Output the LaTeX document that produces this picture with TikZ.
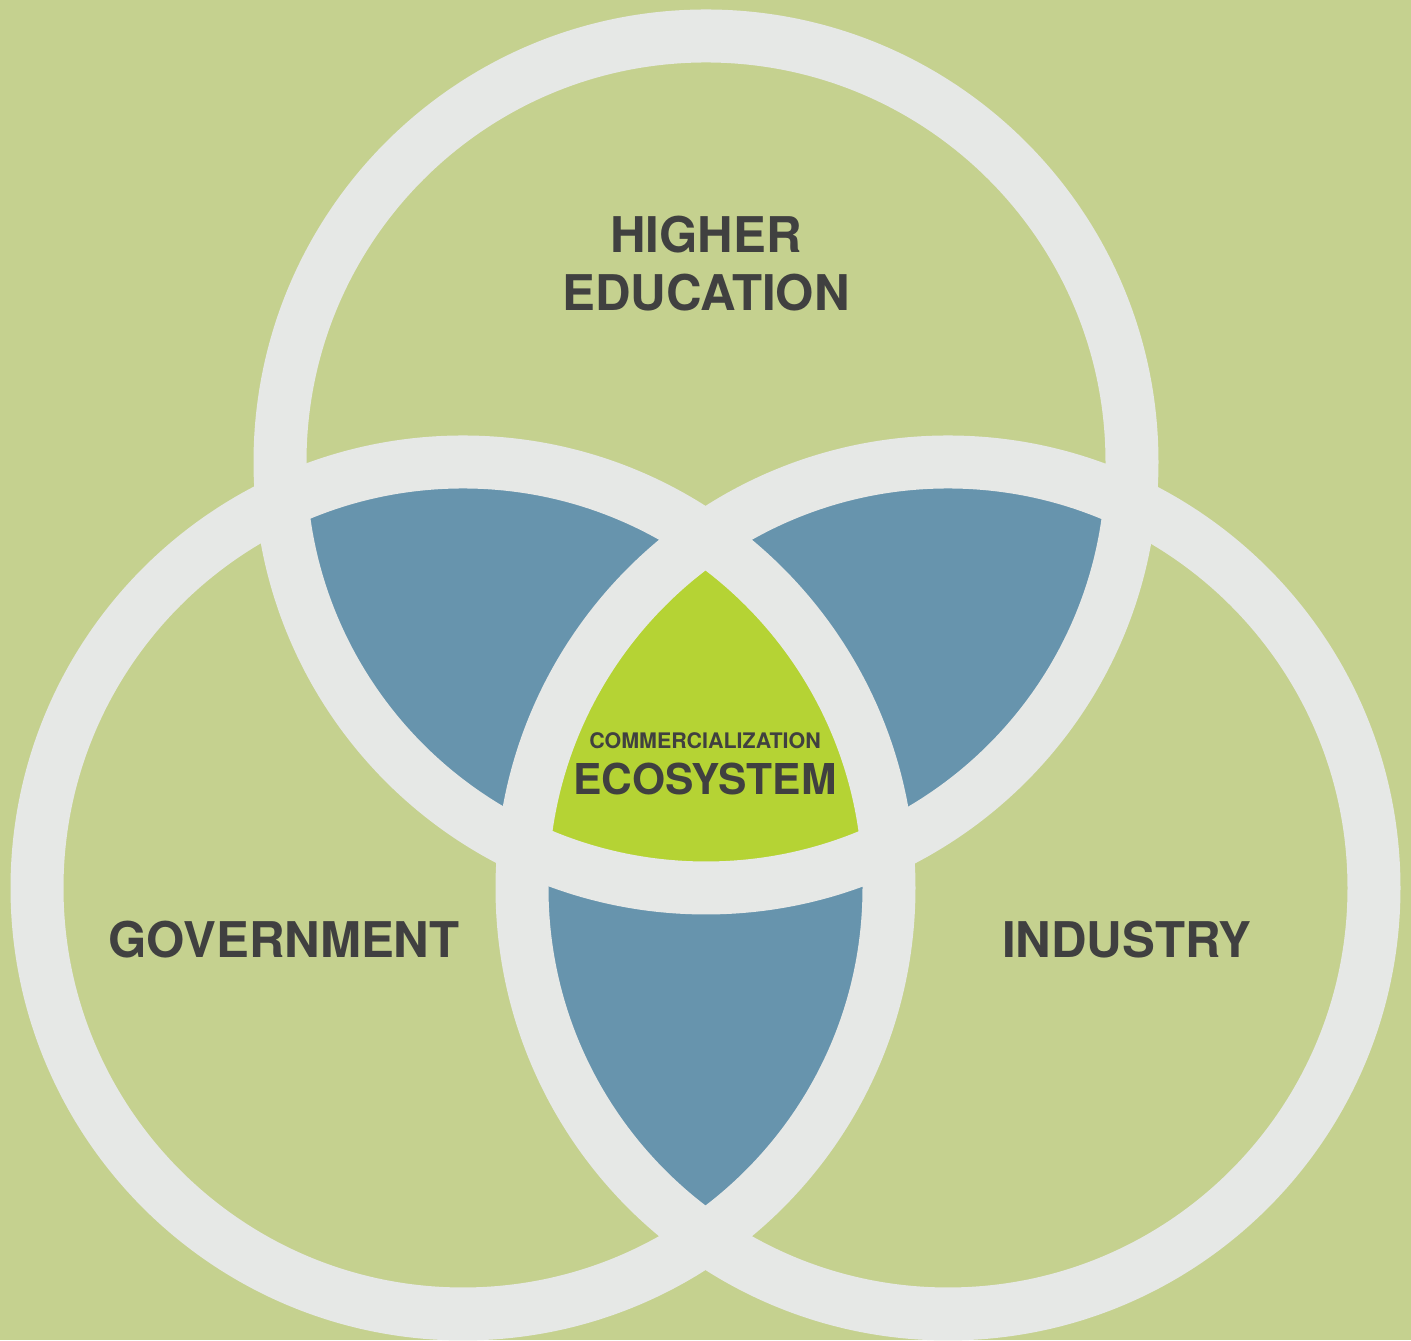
\documentclass[tikz,border=0pt]{standalone}
\usepackage{fontspec}
\setmainfont{TeX Gyre Heros}
\usetikzlibrary{calc}
\usetikzlibrary{backgrounds}

\definecolor{bgcol}{HTML}{C5D18F}
\definecolor{ringcol}{HTML}{E6E8E6}
\definecolor{pairblue}{HTML}{6794AD}
\definecolor{corelime}{HTML}{B5D334}
\definecolor{txtcol}{HTML}{404040}

\tikzset{
  ring/.style={draw=ringcol, line width=5.3mm},
  sector/.style={text=txtcol, font=\bfseries\fontsize{14}{16.5}\selectfont, align=center, inner sep=0pt},
}

\begin{document}
\begin{tikzpicture}
\fill[bgcol] (0,0) rectangle (14.11,13.40);
\coordinate (H) at (7.06,8.78);
\coordinate (G) at (4.63,4.52);
\coordinate (I) at (9.48,4.52);
\def\rad{4.26}
% pairwise overlaps
\begin{scope}
\clip (H) circle (\rad);
\fill[pairblue] (G) circle (\rad);
\fill[pairblue] (I) circle (\rad);
\end{scope}
\begin{scope}
\clip (G) circle (\rad);
\fill[pairblue] (I) circle (\rad);
\end{scope}
% all three
\begin{scope}
\clip (H) circle (\rad);
\clip (G) circle (\rad);
\fill[corelime] (I) circle (\rad);
\end{scope}
\foreach \c in {H,G,I}
  \draw[ring] (\c) circle (\rad);

\node[sector] (higher) at (7.06,10.76) {HIGHER\\EDUCATION};
\node[sector, anchor=base] (gov) at (2.84,3.82) {GOVERNMENT};
\node[sector, anchor=base] (ind) at (11.27,3.82) {INDUSTRY};
\node[sector, anchor=base, font=\bfseries\fontsize{6.1}{7}\selectfont] (comm) at (7.05,5.91) {COMMERCIALIZATION};
\node[sector, anchor=base, font=\bfseries\fontsize{12.1}{14}\selectfont] (eco) at (7.05,5.45) {ECOSYSTEM};
\end{tikzpicture}
\end{document}
